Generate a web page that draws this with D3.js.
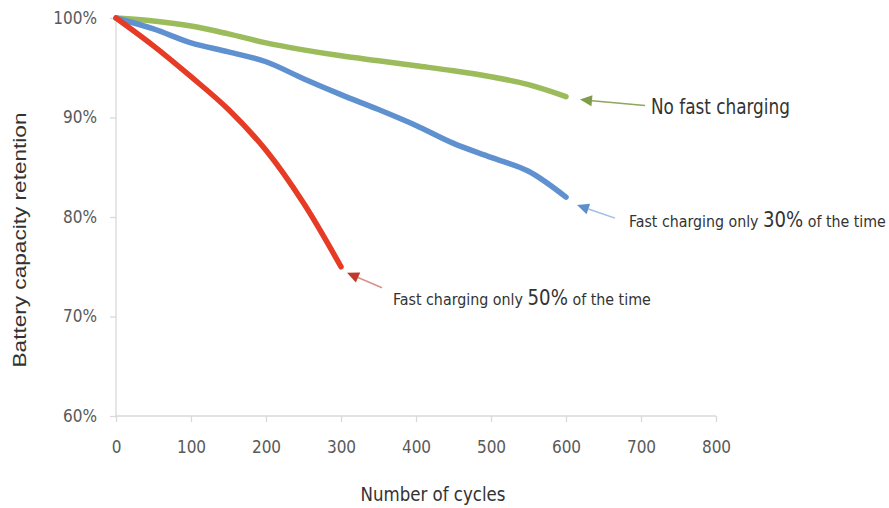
<!DOCTYPE html>
<html>
<head>
<meta charset="utf-8">
<script src="https://cdn.jsdelivr.net/npm/d3@7"></script>
<style>
  html, body { margin: 0; padding: 0; background: #fff; }
  svg { display: block; }
</style>
</head>
<body>
<svg id="chart" width="889" height="508"></svg>
<script>
// Capacity retention (%) against charge cycles for three charging regimes
const cyclesNoFast   = [0, 50, 100, 150, 200, 250, 300, 350, 400, 450, 500, 550, 600];
const retentionNoFast = [100, 99.7, 99.2, 98.4, 97.5, 96.8, 96.2, 95.7, 95.2, 94.7, 94.1, 93.3, 92.1];

const cycles30   = [0, 50, 100, 150, 200, 250, 300, 350, 400, 450, 500, 550, 600];
const retention30 = [100, 98.9, 97.5, 96.6, 95.6, 93.9, 92.3, 90.8, 89.2, 87.4, 86.0, 84.6, 82.0];

const cycles50   = [0, 50, 100, 150, 200, 250, 300];
const retention50 = [100, 97.2, 94.1, 90.8, 86.7, 81.4, 75.0];

const xTicks = [0, 100, 200, 300, 400, 500, 600, 700, 800];
const yTicks = [60, 70, 80, 90, 100];

const seriesNames = ["No fast charging", "Fast charging only 30% of the time", "Fast charging only 50% of the time"];
const seriesColors = ["#9cbc5c", "#5f91d0", "#e63b25"];

const svg = d3.select("#chart");
const narrow = '"Liberation Sans Narrow", "DejaVu Sans Condensed", sans-serif';

const x = d3.scaleLinear().domain([0, 800]).range([116, 716]);
const y = d3.scaleLinear().domain([60, 100]).range([416, 18]);

// Squeeze a text horizontally about its anchor so it spans the given width
function fitWidth(sel, width, ax, ay) {
  const w = sel.node().getComputedTextLength();
  const k = width / w;
  sel.attr("transform", `translate(${ax},${ay}) scale(${k},1) translate(${-ax},${-ay})`);
}

// Axes
const xAxis = svg.append("g")
  .attr("transform", `translate(0,${y(60)})`)
  .call(d3.axisBottom(x).tickValues(xTicks).tickSize(6).tickPadding(19));
const yAxis = svg.append("g")
  .attr("transform", `translate(${x(0)},0)`)
  .call(d3.axisLeft(y).tickValues(yTicks).tickSize(6).tickPadding(13).tickFormat(d => d + "%"));

[xAxis, yAxis].forEach(g => {
  g.attr("font-family", narrow).attr("font-size", 17);
  g.select(".domain").attr("stroke", "#d9d9d9").attr("stroke-width", 1.3);
  g.selectAll(".tick line").attr("stroke", "#d9d9d9").attr("stroke-width", 1.3);
  g.selectAll(".tick text").attr("fill", "#595959");
});
xAxis.select(".domain").attr("d", `M${x(0)},0H${x(800)}`);
yAxis.select(".domain").attr("d", `M0,${y(60)}V${y(100)}`);

// Axis titles
const xTitle = svg.append("text")
  .attr("x", 433).attr("y", 501)
  .attr("text-anchor", "middle")
  .attr("font-family", narrow).attr("font-size", 20)
  .attr("fill", "#333")
  .text("Number of cycles");
fitWidth(xTitle, 145, 433, 501);

svg.append("text")
  .attr("transform", "translate(26,240) rotate(-90)")
  .attr("text-anchor", "middle")
  .attr("font-family", '"Liberation Sans", Arial, sans-serif').attr("font-size", 18.5)
  .attr("textLength", 255).attr("lengthAdjust", "spacingAndGlyphs")
  .attr("fill", "#333")
  .text("Battery capacity retention");

// Lines
const line = d3.line()
  .x(d => x(d[0]))
  .y(d => y(d[1]))
  .curve(d3.curveCatmullRom.alpha(0.5));

const series = [
  d3.zip(cyclesNoFast, retentionNoFast),
  d3.zip(cycles30, retention30),
  d3.zip(cycles50, retention50)
];

svg.append("g").selectAll("path")
  .data(series)
  .join("path")
  .attr("d", line)
  .attr("fill", "none")
  .attr("stroke", (d, i) => seriesColors[i])
  .attr("stroke-width", 5.5)
  .attr("stroke-linecap", "round")
  .attr("stroke-linejoin", "round");

// Annotations: arrow pointing at each series end, with its label
const annotations = [
  { s: 0, tip: [14, 3], tail: [79, 9], lineColor: "#8da75c", headColor: "#7f9c4b", text: [85, 17.5], width: 139 },
  { s: 1, tip: [11, 8], tail: [49, 21], lineColor: "#9dbde4", headColor: "#5b8fd0", text: [63, 30], width: 257 },
  { s: 2, tip: [6, 6], tail: [41, 21], lineColor: "#d9908a", headColor: "#c0392b", text: [52, 38], width: 258 }
];

const annG = svg.append("g");
annotations.forEach(a => {
  const pts = series[a.s];
  const end = pts[pts.length - 1];
  const ex = x(end[0]), ey = y(end[1]);
  const tx = ex + a.tip[0], ty = ey + a.tip[1];
  const lx = ex + a.tail[0], ly = ey + a.tail[1];
  const ang = Math.atan2(ly - ty, lx - tx);
  const hl = 12, hw = 5.5;
  const bx = tx + hl * Math.cos(ang), by = ty + hl * Math.sin(ang);
  annG.append("line")
    .attr("x1", bx).attr("y1", by).attr("x2", lx).attr("y2", ly)
    .attr("stroke", a.lineColor).attr("stroke-width", 1.5);
  const px = -Math.sin(ang), py = Math.cos(ang);
  annG.append("path")
    .attr("d", `M${tx},${ty}L${bx + px * hw},${by + py * hw}L${bx - px * hw},${by - py * hw}Z`)
    .attr("fill", a.headColor);

  const ax = ex + a.text[0], ay = ey + a.text[1];
  const t = annG.append("text")
    .attr("x", ax).attr("y", ay)
    .attr("font-family", narrow)
    .attr("fill", "#333");
  if (a.s === 0) {
    t.attr("font-size", 21).text(seriesNames[0]);
  } else {
    const m = seriesNames[a.s].match(/^(.*?)(\d+%)(.*)$/);
    t.append("tspan").attr("font-size", 16.5).text(m[1]);
    t.append("tspan").attr("font-size", 21).text(m[2]);
    t.append("tspan").attr("font-size", 16.5).text(m[3]);
  }
  fitWidth(t, a.width, ax, ay);
});
</script>
</body>
</html>
